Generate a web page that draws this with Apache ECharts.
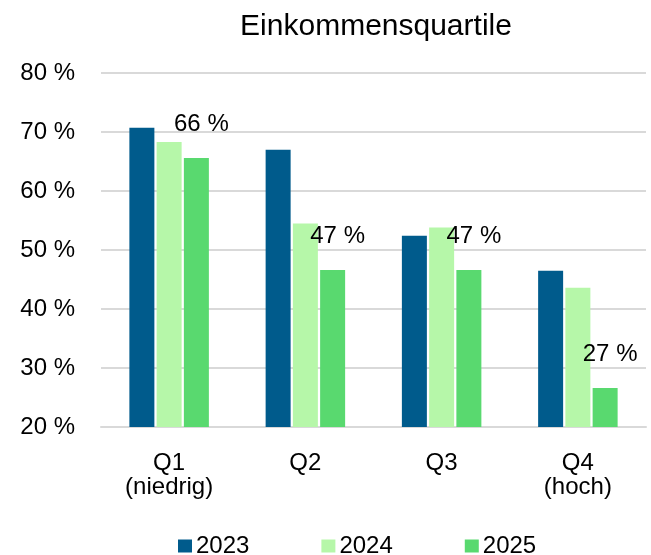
<!DOCTYPE html>
<html>
<head>
<meta charset="utf-8">
<script src="https://cdn.jsdelivr.net/npm/echarts@6/dist/echarts.min.js"></script>
<style>
    html, body { margin: 0; padding: 0; background: #fff; }
    #chart { width: 651px; height: 555px; }
</style>
</head>
<body>
<div id="chart"></div>
<script>
const categories = ["Q1\n(niedrig)", "Q2", "Q3", "Q4\n(hoch)"];
const years = ["2023", "2024", "2025"];
const values2023 = [70.7, 67.0, 52.4, 46.5];
const values2024 = [68.3, 54.5, 53.8, 43.6];
const values2025 = [65.6, 46.6, 46.6, 26.6];
const yTicks = { min: 20, max: 80, step: 10 };

const colors = ["#005b8c", "#b6f7a9", "#59d96f"];
const font = "Liberation Sans, Arial, sans-serif";

const chart = echarts.init(document.getElementById("chart"));

const barSeries = (name, data, color, withLabel) => ({
    name: name,
    type: "bar",
    data: data,
    barWidth: 25,
    barGap: "9%",
    itemStyle: { color: color },
    label: {
        show: withLabel,
        position: "top",
        distance: 22,
        offset: [5, 0],
        color: "#000",
        fontSize: 24,
        fontFamily: font,
        formatter: p => Math.round(p.value) + " %",
    },
});

chart.setOption({
    animation: false,
    backgroundColor: "#fff",
    title: {
        text: "Einkommensquartile",
        left: 371,
        top: 7,
        textAlign: "center",
        textStyle: { fontSize: 30, fontWeight: "normal", color: "#000", fontFamily: font },
    },
    grid: { left: 101, right: 5, top: 73, bottom: 128 },
    legend: {
        data: years,
        left: 173,
        top: 529,
        icon: "rect",
        itemWidth: 14,
        itemHeight: 13,
        itemGap: 72,
        textStyle: { fontSize: 24, color: "#000", fontFamily: font, padding: [0, 0, 0, -1] },
    },
    xAxis: {
        type: "category",
        data: categories,
        axisTick: { show: false },
        axisLine: { lineStyle: { color: "#d9d9d9", width: 2 } },
        axisLabel: { fontSize: 24, lineHeight: 24, margin: 24, color: "#000", fontFamily: font },
    },
    yAxis: {
        type: "value",
        min: yTicks.min,
        max: yTicks.max,
        interval: yTicks.step,
        axisLabel: { formatter: "{value} %", fontSize: 24, margin: 26, color: "#000", fontFamily: font },
        splitLine: { lineStyle: { color: "#d9d9d9", width: 2 } },
    },
    series: [
        barSeries(years[0], values2023, colors[0], false),
        barSeries(years[1], values2024, colors[1], false),
        barSeries(years[2], values2025, colors[2], true),
    ],
});
</script>
</body>
</html>
